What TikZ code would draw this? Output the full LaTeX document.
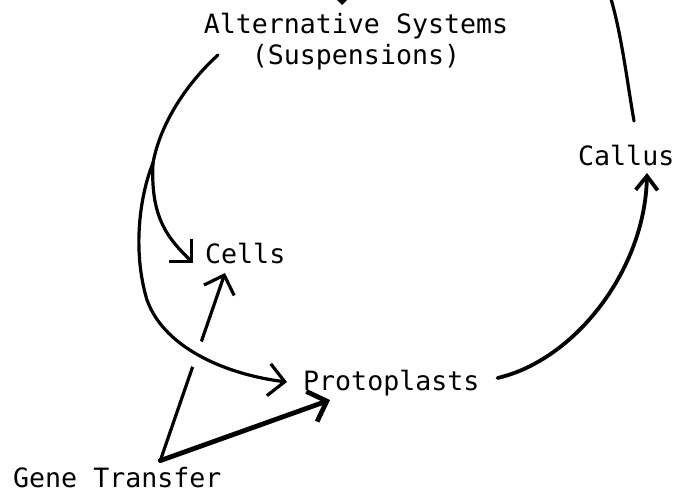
\documentclass[tikz,border=0pt]{standalone}
\usepackage{fontspec}
\setmonofont{DejaVu Sans Mono}
\usetikzlibrary{arrows.meta}

\begin{document}
\begin{tikzpicture}[x=1pt, y=-1pt,
		lbl/.style={font=\ttfamily\fontsize{26.6}{31}\selectfont, inner sep=0pt},
		conn/.style={line width=3.2pt, line cap=round, -{Straight Barb[length=16pt, width=32pt]}},
		heavy/.style={line width=4.8pt}]
			\path[use as bounding box, clip] (0,0) rectangle (673,493);
			
			\node[lbl, anchor=north, align=center] (alt) at (356,13) {Alternative Systems\\(Suspensions)};
			\node[lbl, anchor=base west] (callus) at (578,165) {Callus};
			\node[lbl, anchor=base west] (cells) at (205,263) {Cells};
			\node[lbl, anchor=base west] (proto) at (303,390) {Protoplasts};
			\node[lbl, anchor=base west] (gene) at (13,487) {Gene Transfer};
			
			\coordinate (src) at (218,55);
			\coordinate (fork) at (153,163);
			\coordinate (apex) at ([shift={(43pt,6pt)}]gene.north);
			
			\draw[conn] (apex) -- ([shift={(20pt,-10pt)}]cells.base west);
			\draw[conn, preaction={draw=white, line width=26pt, arrows=-}] (fork) .. controls (140,195) and (132,250) .. (147,300) .. controls (165,350) and (230,375) .. ([shift={(-16pt,8pt)}]proto.base west);
			\draw[conn] (src) .. controls (185,85) and (160,125) .. (fork) .. controls (150,220) and (170,240) .. ([xshift=-12pt]cells.base west);
			\draw[conn, heavy] (apex) -- ([shift={(27pt,-10pt)}]proto.base west);
			\draw[conn, line width=3.8pt, -{Straight Barb[length=14pt, width=22pt]}] ([shift={(18pt,12pt)}]proto.base east) .. controls (575,360) and (645,270) .. ([shift={(69pt,-8pt)}]callus.base west);
			\draw[conn] ([shift={(56pt,44pt)}]callus.base west) .. controls (620,40) and (615,-40) .. (560,-90) .. controls (450,-130) and (342,-80) .. ([shift={(-14pt,8pt)}]alt.north);
		\end{tikzpicture}
\end{document}
